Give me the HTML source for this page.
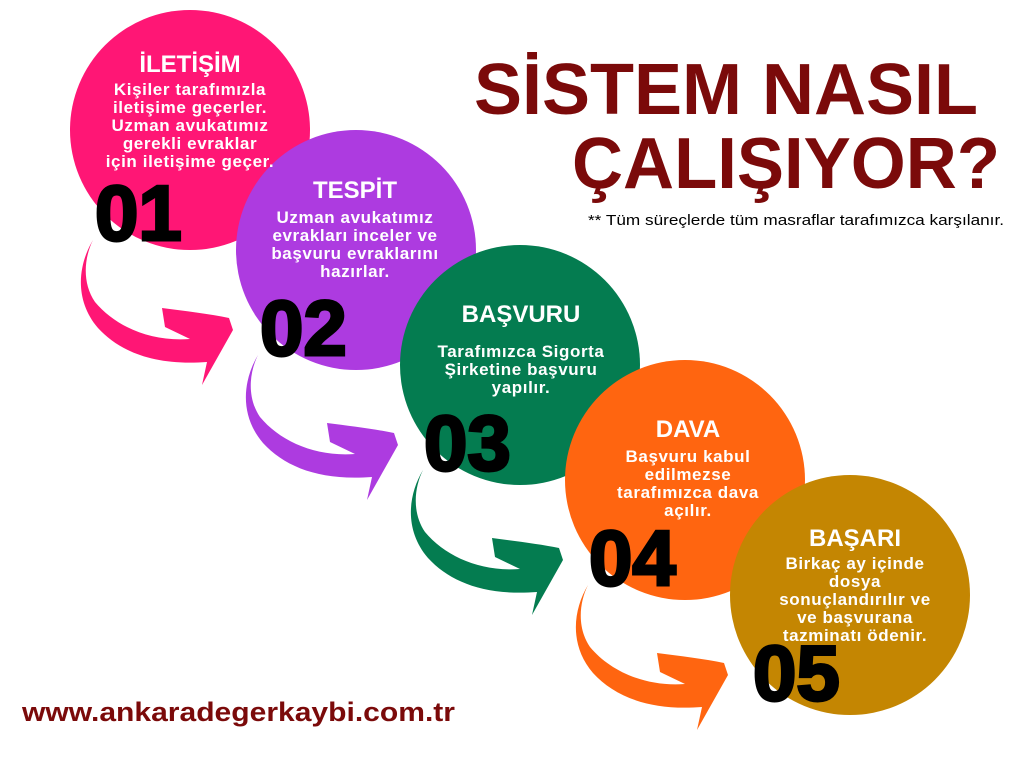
<!DOCTYPE html>
<html><head><meta charset="utf-8"><style>
html,body{margin:0;padding:0;background:#fff;}
svg{display:block;}
text{font-family:"Liberation Sans","DejaVu Sans",sans-serif;font-weight:bold;}
.t{fill:#fff;font-size:24px;text-anchor:middle;}
.b{fill:#fff;font-size:17px;text-anchor:middle;letter-spacing:0.6px;}
.n{fill:#000;font-size:78px;stroke:#000;stroke-width:3px;}
</style></head><body>
<svg width="1024" height="768" viewBox="0 0 1024 768" xmlns="http://www.w3.org/2000/svg">
<defs>
<path id="arr" d="M93,240 C78,265 74,300 98,328 C120,352 155,366 207,362 L202,385 L233,330 L229,318 C210,314 185,311 162,308 L165,327 L190,339 C150,342 115,326 95,302 C82,283 84,258 93,240 Z"/>
</defs>
<use href="#arr" fill="#ff1675"/>
<use href="#arr" fill="#ad3be0" transform="translate(165,115)"/>
<use href="#arr" fill="#047c50" transform="translate(330,230)"/>
<use href="#arr" fill="#ff6510" transform="translate(495,345)"/>
<circle cx="190" cy="130" r="120" fill="#ff1675"/>
<circle cx="356" cy="250" r="120" fill="#ad3be0"/>
<circle cx="520" cy="365" r="120" fill="#047c50"/>
<circle cx="685" cy="480" r="120" fill="#ff6510"/>
<circle cx="850" cy="595" r="120" fill="#c48602"/>

<text class="t" x="190" y="72">İLETİŞİM</text>
<text class="b" x="190" y="95">Kişiler tarafımızla</text>
<text class="b" x="190" y="113">iletişime geçerler.</text>
<text class="b" x="190" y="131">Uzman avukatımız</text>
<text class="b" x="190" y="149">gerekli evraklar</text>
<text class="b" x="190" y="167">için iletişime geçer.</text>
<text class="n" x="95" y="240">01</text>

<text class="t" x="355" y="198">TESPİT</text>
<text class="b" x="355" y="223">Uzman avukatımız</text>
<text class="b" x="355" y="241">evrakları inceler ve</text>
<text class="b" x="355" y="259">başvuru evraklarını</text>
<text class="b" x="355" y="277">hazırlar.</text>
<text class="n" x="260" y="355">02</text>

<text class="t" x="521" y="322">BAŞVURU</text>
<text class="b" x="521" y="357">Tarafımızca Sigorta</text>
<text class="b" x="521" y="375">Şirketine başvuru</text>
<text class="b" x="521" y="393">yapılır.</text>
<text class="n" x="424" y="470">03</text>

<text class="t" x="688" y="437">DAVA</text>
<text class="b" x="688" y="462">Başvuru kabul</text>
<text class="b" x="688" y="480">edilmezse</text>
<text class="b" x="688" y="498">tarafımızca dava</text>
<text class="b" x="688" y="516">açılır.</text>
<text class="n" x="589" y="585">04</text>

<text class="t" x="855" y="546">BAŞARI</text>
<text class="b" x="855" y="569">Birkaç ay içinde</text>
<text class="b" x="855" y="587">dosya</text>
<text class="b" x="855" y="605">sonuçlandırılır ve</text>
<text class="b" x="855" y="623">ve başvurana</text>
<text class="b" x="855" y="641">tazminatı ödenir.</text>
<text class="n" x="753" y="700">05</text>

<text x="474" y="114" fill="#7b0a0a" font-size="72">SİSTEM NASIL</text>
<text x="572" y="188" fill="#7b0a0a" font-size="72" textLength="428" lengthAdjust="spacingAndGlyphs">ÇALIŞIYOR?</text>
<text x="588" y="225" fill="#000" font-size="15" style="font-weight:normal" textLength="416" lengthAdjust="spacingAndGlyphs">** Tüm süreçlerde tüm masraflar tarafımızca karşılanır.</text>
<text x="22" y="721" fill="#7b0a0a" font-size="27" textLength="433" lengthAdjust="spacingAndGlyphs">www.ankaradegerkaybi.com.tr</text>
</svg>
</body></html>
